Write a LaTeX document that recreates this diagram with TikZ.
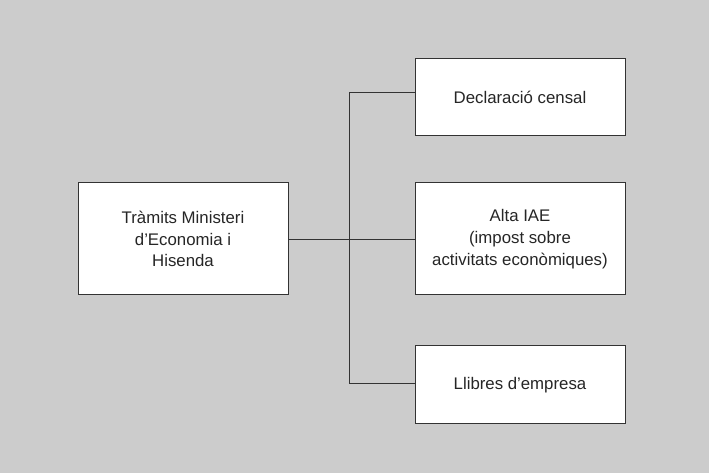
\documentclass[tikz,border=0pt]{standalone}
\usepackage{fontspec}
\setmainfont{Liberation Sans}
\begin{document}
\begin{tikzpicture}[x=1pt,y=1pt,
  box/.style={draw=black!80, line width=1pt, fill=white, minimum width=210pt, align=center, inner sep=0pt, text=black!85, font=\fontsize{16.8}{21.7}\selectfont},
  conn/.style={draw=black!80, line width=1pt}]
\fill[black!20] (0,0) rectangle (709,473);
\useasboundingbox (0,0) rectangle (709,473);
\node[box, minimum height=112pt] (L) at (183,234) {Tràmits Ministeri\\d’Economia i\\ Hisenda};
\node[box, minimum height=77pt] (T) at (520,375.5) {Declaració censal};
\node[box, minimum height=112pt] (M) at (520,234) {Alta IAE\\(impost sobre\\activitats econòmiques)};
\node[box, minimum height=77.5pt] (B) at (520,88.25) {Llibres d’empresa};
\coordinate (jt) at (349,380);
\coordinate (jm) at (349,233);
\coordinate (jb) at (349,89);
\draw[conn] (L.east |- jm) -- (jm);
\draw[conn] (jm) -- (jm -| M.west);
\draw[conn] (jt) -- (jb);
\draw[conn] (jt) -- (jt -| T.west);
\draw[conn] (jb) -- (jb -| B.west);
\end{tikzpicture}
\end{document}
